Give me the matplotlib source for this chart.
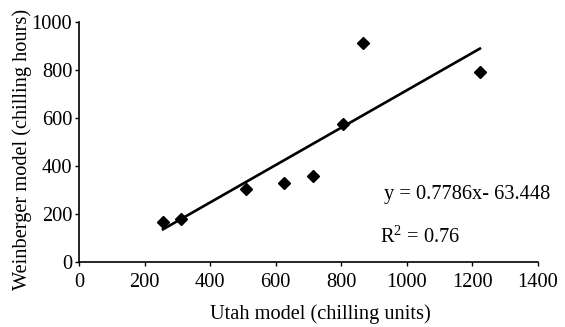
import numpy as np
import matplotlib.pyplot as plt

plt.rcParams['font.family'] = ['Liberation Serif', 'DejaVu Serif']
plt.rcParams['mathtext.fontset'] = 'custom'
plt.rcParams['mathtext.rm'] = 'Liberation Serif'

# Données
utah_units = [256, 311, 509, 625, 713, 805, 866, 1223]
weinberger_hours = [165, 180, 305, 330, 360, 576, 913, 792]
slope = 0.7786
intercept = -63.448
r_squared = 0.76

x_ticks = [0, 200, 400, 600, 800, 1000, 1200, 1400]
y_ticks = [0, 200, 400, 600, 800, 1000]

fig = plt.figure(figsize=(5.65, 3.27), dpi=100)
ax = fig.add_axes([0.14, 0.199, 0.812, 0.734])

ax.plot(utah_units, weinberger_hours, linestyle='none', marker='D',
        markersize=6.2, color='black')

# Droite de tendance
x_fit = np.array([min(utah_units), max(utah_units)])
ax.plot(x_fit, slope * x_fit + intercept, color='black', linewidth=1.9)

ax.set_xlim(0, 1400)
ax.set_ylim(0, 1000)
ax.set_xticks(x_ticks)
ax.set_yticks(y_ticks)
ax.tick_params(direction='out', length=3, width=1, labelsize=14.7)
ax.tick_params(axis='x', pad=5)
ax.tick_params(axis='y', pad=2)
for side in ['top', 'right']:
    ax.spines[side].set_visible(False)
for side in ['left', 'bottom']:
    ax.spines[side].set_linewidth(1.2)

ax.set_xlabel("Utah model (chilling units)", fontsize=14.7, labelpad=9,
              x=0.526)
ax.set_ylabel("Weinberger model (chilling hours)", fontsize=14.7,
              labelpad=0, y=0.47)

ax.text(1183, 280, f"y = {slope}x- {abs(intercept)}", fontsize=14.7,
        ha='center', va='center')
ax.text(1040, 105, f"R$^{{\\mathrm{{2}}}}$ = {r_squared}", fontsize=14.7,
        ha='center', va='center')

fig.savefig("out.png", dpi=100)
